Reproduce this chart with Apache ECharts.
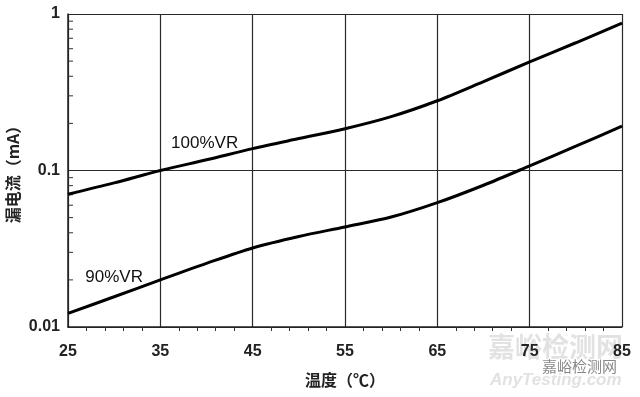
<!DOCTYPE html>
<html>
<head>
<meta charset="utf-8">
<script src="https://cdn.jsdelivr.net/npm/echarts@6/dist/echarts.min.js"></script>
<style>
  html, body { margin: 0; padding: 0; background: #fff; }
  #main { width: 640px; height: 397px; }
</style>
</head>
<body>
<div id="main"></div>
<script>
// 温度 (℃)
var temps = [25, 30, 35, 40, 45, 50, 55, 60, 65, 70, 75, 80, 85];
// 漏电流 (mA), 100%VR
var leak100 = [0.0705, 0.0833, 0.1, 0.117, 0.138, 0.160, 0.185, 0.221, 0.279, 0.370, 0.494, 0.655, 0.875];
// 漏电流 (mA), 90%VR
var leak90 = [0.01222, 0.0156, 0.0200, 0.0255, 0.0320, 0.0379, 0.0436, 0.0504, 0.0623, 0.0805, 0.107, 0.143, 0.192];
// 对数轴上的次刻度
var yMinorTicks = [0.02, 0.03, 0.04, 0.05, 0.06, 0.07, 0.08, 0.09, 0.2, 0.3, 0.4, 0.5, 0.6, 0.7, 0.8, 0.9];

var chart = echarts.init(document.getElementById('main'), null, { renderer: 'canvas' });

function pairs(xs, ys) {
    var out = [];
    for (var i = 0; i < xs.length; i++) {
        out.push([xs[i], ys[i]]);
    }
    return out;
}

var font = '"Liberation Sans", Arial, sans-serif';
var cjk = '"Noto Sans CJK SC", "Liberation Sans", sans-serif';

var option = {
    backgroundColor: '#fff',
    animation: false,
    grid: { left: 68, right: 18, top: 14, bottom: 70, containLabel: false, outerBoundsMode: 'none' },
    xAxis: {
        type: 'value',
        min: 25,
        max: 85,
        interval: 10,
        name: '温度（℃）',
        nameLocation: 'middle',
        nameGap: 45,
        nameMoveOverlap: false,
        nameTextStyle: { fontFamily: cjk, fontSize: 16, fontWeight: 'bold', color: '#222' },
        axisLine: { show: true, onZero: false, lineStyle: { color: '#222', width: 1.5 } },
        axisTick: { show: false },
        minorTick: { show: true, splitNumber: 5, length: 4, lineStyle: { color: '#333', width: 1 } },
        axisLabel: { margin: 17, fontFamily: font, fontSize: 16, fontWeight: 'bold', color: '#222' },
        splitLine: { show: true, lineStyle: { color: '#2a2a2a', width: 1.2 } }
    },
    yAxis: {
        type: 'log',
        logBase: 10,
        min: 0.01,
        max: 1,
        name: '漏电流（mA）',
        nameLocation: 'middle',
        nameGap: 47,
        nameMoveOverlap: false,
        nameTextStyle: { fontFamily: cjk, fontSize: 16, fontWeight: 'bold', color: '#222' },
        axisLine: { show: true, lineStyle: { color: '#222', width: 1.5 } },
        axisTick: { show: false },
        axisLabel: { margin: 8, fontFamily: font, fontSize: 16, fontWeight: 'bold', color: '#222' },
        splitLine: { show: true, lineStyle: { color: '#2a2a2a', width: 1.2 } }
    },
    graphic: [
        {
            type: 'text', left: 488, top: 333, silent: true,
            style: { text: '嘉峪检测网', font: 'bold 27px "Noto Sans CJK SC"', fill: '#e2e2e2' }
        },
        {
            type: 'text', left: 490, top: 372, silent: true,
            style: { text: 'AnyTesting.com', font: 'italic bold 17px "Liberation Sans"', fill: '#e2e2e2' }
        },
        {
            type: 'text', left: 541, top: 358, silent: true,
            style: { text: '嘉峪检测网', font: '15px "Noto Sans CJK SC"', fill: '#888', stroke: '#fff', lineWidth: 2 }
        }
    ],
    series: [
        {
            name: '100%VR',
            type: 'line',
            smooth: 0.3,
            showSymbol: false,
            lineStyle: { color: '#000', width: 3 },
            data: pairs(temps, leak100),
            markPoint: {
                symbol: 'rect',
                symbolSize: 1,
                itemStyle: { color: 'rgba(0,0,0,0)' },
                label: { show: true, position: 'inside', formatter: '100%VR', fontFamily: font, fontSize: 17, color: '#111' },
                data: [{ coord: [39.8, 0.150] }]
            }
        },
        {
            name: '90%VR',
            type: 'line',
            smooth: 0.3,
            showSymbol: false,
            lineStyle: { color: '#000', width: 3 },
            data: pairs(temps, leak90),
            markPoint: {
                symbol: 'rect',
                symbolSize: 1,
                itemStyle: { color: 'rgba(0,0,0,0)' },
                label: { show: true, position: 'inside', formatter: '90%VR', fontFamily: font, fontSize: 17, color: '#111' },
                data: [{ coord: [30.0, 0.0207] }]
            }
        },
        {
            // 左侧对数次刻度
            type: 'custom',
            silent: true,
            data: yMinorTicks.map(function (v) { return [25, v]; }),
            renderItem: function (params, api) {
                var p = api.coord([api.value(0), api.value(1)]);
                return {
                    type: 'line',
                    shape: { x1: p[0], y1: p[1], x2: p[0] + 5, y2: p[1] },
                    style: { stroke: '#333', lineWidth: 1 }
                };
            }
        }
    ]
};

chart.setOption(option);
</script>
</body>
</html>
